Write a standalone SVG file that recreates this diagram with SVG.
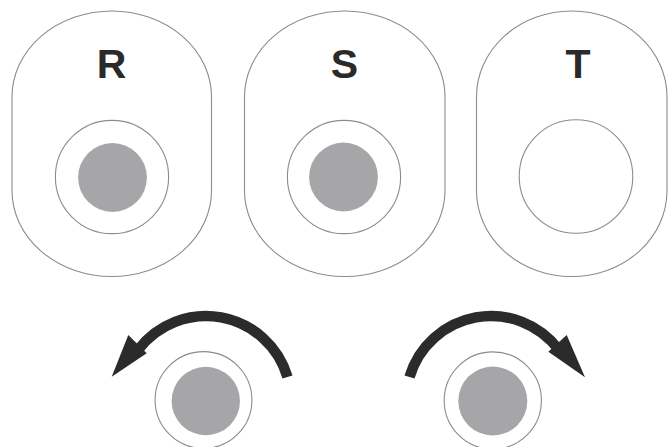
<svg xmlns="http://www.w3.org/2000/svg" width="668" height="447" viewBox="0 0 668 447">
<style>
.pill{fill:#fff;stroke:#8c8c8c;stroke-width:1.1}
.ring{fill:#fff;stroke:#8c8c8c;stroke-width:1.1}
.dot{fill:#a6a6a8}
.lbl{font-family:"Liberation Sans",Arial,sans-serif;font-weight:bold;font-size:41px;fill:#2a2a2a;text-anchor:middle}
.arc{fill:none;stroke:#2b2b2b;stroke-width:10.5}
.head{fill:#2b2b2b}
</style>
<rect width="668" height="447" fill="#fff"/>
<g id="node-R">
<rect class="pill" x="12" y="11" width="199.5" height="265.5" rx="99.75" ry="86"/>
<text class="lbl" x="111.5" y="78">R</text>
<circle class="ring" cx="112" cy="177" r="56.6"/>
<circle class="dot" cx="112.5" cy="177.5" r="34.4"/>
</g>
<g id="node-S">
<rect class="pill" x="244.5" y="11" width="200.5" height="265.5" rx="100" ry="86"/>
<text class="lbl" x="344.5" y="78">S</text>
<circle class="ring" cx="344" cy="177" r="56.6"/>
<circle class="dot" cx="343.5" cy="177" r="34.4"/>
</g>
<g id="node-T">
<rect class="pill" x="476.5" y="11" width="190.5" height="265.5" rx="95" ry="86"/>
<text class="lbl" x="578" y="78">T</text>
<circle class="ring" cx="576" cy="176.5" r="56.8"/>
</g>
<g id="node-knob-left">
<circle class="ring" cx="203.5" cy="400" r="48.4"/>
<circle class="dot" cx="205.8" cy="401" r="34.2"/>
</g>
<g id="node-knob-right">
<circle class="ring" cx="492.8" cy="400.5" r="48.6"/>
<circle class="dot" cx="492.8" cy="401" r="34.5"/>
</g>
<g id="connectors">
<path class="arc" d="M287.5,377 A85,85 0 0 0 138.1,349.8"/>
<polygon class="head" points="128.3,335 146.7,353.3 111.7,376.7"/>
<path class="arc" d="M409.5,377 A85,85 0 0 1 558.9,349.8"/>
<polygon class="head" points="566.7,335 548.3,351.7 585,377.3"/>
</g>
</svg>
